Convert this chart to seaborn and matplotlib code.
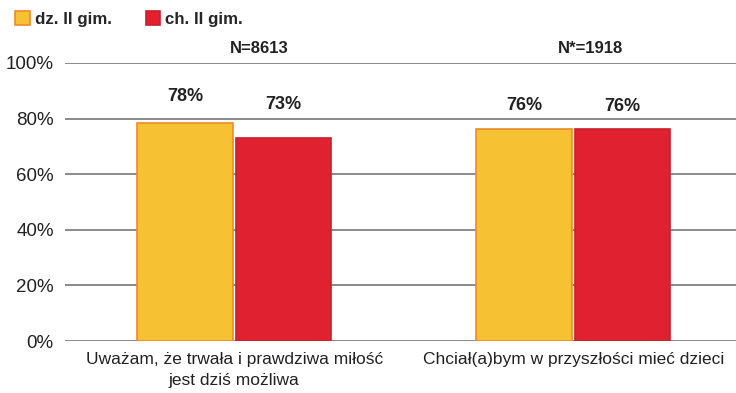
import numpy as np
import matplotlib.pyplot as plt
import pandas as pd
import seaborn as sns
from matplotlib.ticker import FuncFormatter

# dane
categories = ["Uważam, że trwała i prawdziwa miłość\njest dziś możliwa",
              "Chciał(a)bym w przyszłości mieć dzieci"]
groups = ["dz. II gim.", "ch. II gim."]
dz_values = [78.4, 76.4]
ch_values = [73.0, 76.2]
dz_labels = ["78%", "76%"]
ch_labels = ["73%", "76%"]
n_labels = ["N=8613", "N*=1918"]

df = pd.DataFrame({
    "kat": categories * 2,
    "grupa": [groups[0]] * 2 + [groups[1]] * 2,
    "val": dz_values + ch_values,
})

sns.set_theme(style="white")
plt.rcParams['font.family'] = ['Liberation Sans', 'DejaVu Sans']

fill_cols = ["#F6C233", "#E0212F"]
edge_cols = ["#EE8A2C", "#C8202C"]
# odstęp etykiet od słupków (pt), jak w oryginale
label_pads = [[13, 10.5], [18, 10.5]]
n_offsets = [0.075, 0.05]

fig = plt.figure(figsize=(7.36, 3.93), dpi=100)
ax = fig.add_axes([0.088, 0.132, 0.912, 0.708])

sns.barplot(data=df, x="kat", y="val", hue="grupa", palette=fill_cols,
            width=0.58, gap=0.03, ax=ax, legend=False, saturation=1)

for cont, ec, labs, pads in zip(ax.containers, edge_cols, [dz_labels, ch_labels], label_pads):
    for bar, lab, pd_ in zip(cont, labs, pads):
        bar.set_edgecolor(ec)
        bar.set_linewidth(1.2)
        ax.annotate(lab, (bar.get_x() + bar.get_width() / 2, bar.get_height()),
                    xytext=(0, pd_), textcoords='offset points', ha='center', va='bottom',
                    fontsize=13, fontweight='bold', color='#222222')

ax.set_ylim(0, 100)
ax.set_xlim(-0.5, 1.48)
ax.set_yticks(np.arange(0, 101, 20))
ax.yaxis.set_major_formatter(FuncFormatter(lambda v, p: f"{int(v)}%"))
ax.yaxis.grid(True, color='#777777', linewidth=1.2)
ax.set_axisbelow(True)
for s in ax.spines.values():
    s.set_visible(False)
ax.tick_params(axis='y', labelsize=13.5, length=0, pad=8, labelcolor='#222222')
ax.tick_params(axis='x', labelsize=12.5, length=0, pad=8, labelcolor='#222222')
for t in ax.get_xticklabels():
    t.set_linespacing(1.5)
ax.set_xlabel("")
ax.set_ylabel("")

# N podpisy nad grupami
for i, t in enumerate(n_labels):
    ax.text(i + n_offsets[i], 102.3, t, ha='center', va='bottom', fontsize=12,
            fontweight='bold', color='#222222')

# legenda
handles = [plt.Rectangle((0, 0), 1, 1, facecolor=f, edgecolor=e, linewidth=1.2)
           for f, e in zip(fill_cols, edge_cols)]
fig.legend(handles, groups, loc='upper left', bbox_to_anchor=(0.0, 1.01), ncol=2,
           frameon=False, prop={'weight': 'bold', 'size': 12.2},
           handlelength=0.85, handleheight=0.9, handletextpad=0.3, columnspacing=2.0)

fig.savefig("out.png", dpi=100)
